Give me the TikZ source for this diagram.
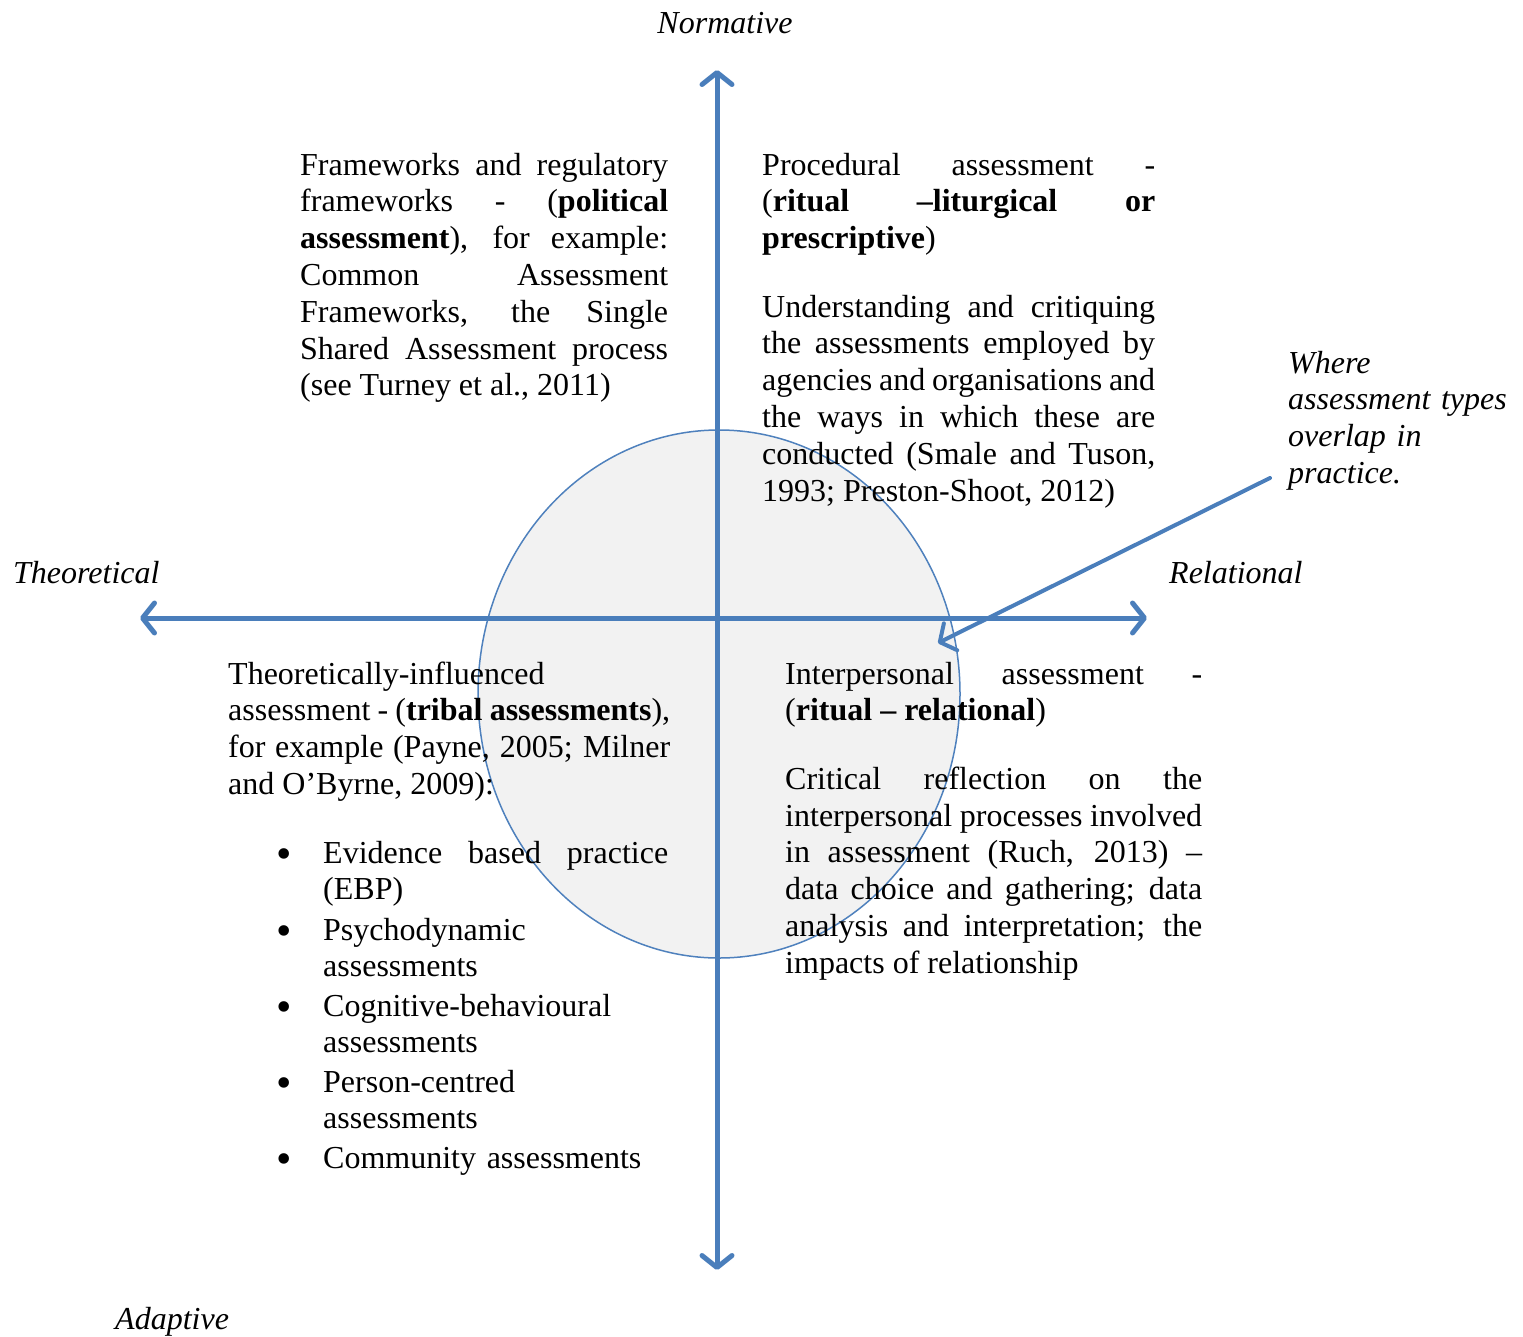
\documentclass[tikz,border=0pt]{standalone}
\usepackage{fontspec}
\setmainfont{Liberation Serif}
\usetikzlibrary{arrows.meta,shapes.geometric}
\definecolor{axisblue}{RGB}{74,126,187}
\definecolor{ringblue}{RGB}{79,129,189}
\definecolor{ringfill}{RGB}{242,242,242}
\newcommand{\loosejust}{\tolerance=10000\relax\hbadness=10000\relax\hyphenpenalty=10000\relax}
\tikzset{
  x=1pt, y=-1pt,
  axis/.style={draw=axisblue, line width=5pt, line cap=round,
    arrows={Straight Barb[length=12pt,width=30pt,line width=5pt,line cap=round,line join=round]-Straight Barb[length=12pt,width=30pt,line width=5pt,line cap=round,line join=round]}},
  pointer/.style={draw=axisblue, line width=4pt, line cap=round,
    -{Straight Barb[length=12pt,width=30pt,line width=4pt,line cap=round,line join=round]}},
  ring/.style={draw=ringblue, line width=1.5pt, fill=ringfill},
  body/.style={inner sep=0pt, anchor=base west, align=justify,
    font=\fontsize{32}{36.8}\selectfont\loosejust},
  plain/.style={inner sep=0pt, anchor=base west, align=left,
    font=\fontsize{32}{36.8}\selectfont},
  dot/.style={inner sep=0pt, anchor=base, yshift=-5pt, font=\fontsize{44}{36.8}\selectfont},
  pole/.style={inner sep=0pt, font=\fontsize{32}{36.8}\selectfont\itshape, align=left},
}
\begin{document}
\begin{tikzpicture}
\useasboundingbox (0,0) rectangle (1523,1336);

% overlap circle
\node[ring, ellipse, minimum width=482pt, minimum height=528pt, inner sep=0pt] (ring) at (719,694) {};

% axes
\coordinate (N) at (717,70);
\coordinate (S) at (717,1270);
\coordinate (W) at (140,618);
\coordinate (E) at (1147,618);
\draw[axis] (S) -- (N);
\draw[axis] (W) -- (E);

% pointer
\coordinate (p1) at (1270,478);
\coordinate (p2) at (938,643);
\draw[pointer] (p1) -- (p2);

% pole labels
\node[pole, anchor=base] (norm) at (725,33) {Normative};
\node[pole, anchor=base west] (theo) at (13,583) {Theoretical};
\node[pole, anchor=base west] (rel) at (1169,583) {Relational};
\node[pole, anchor=base west] (adap) at (115,1329) {Adaptive};
\node[pole, anchor=base west, text width=230pt] (where) at (1288,373) {Where\\assessment types\\overlap in\\practice.};

% top left
\node[body, text width=368pt] (tl) at (300,175) {Frameworks and regulatory\linebreak
frameworks - (\textbf{political}\linebreak
\textbf{assessment}), for example:\linebreak
Common Assessment\linebreak
Frameworks, the Single\linebreak
Shared Assessment process\linebreak
(see Turney et al., 2011)};

% top right
\node[body, text width=393pt] (tr) at (762,175) {Procedural assessment -\linebreak
(\textbf{ritual –liturgical or}\linebreak
\textbf{prescriptive})\\[31.6pt]
Understanding and critiquing\linebreak
the assessments employed by\linebreak
agencies and organisations and\linebreak
the ways in which these are\linebreak
conducted (Smale and Tuson,\linebreak
1993; Preston-Shoot, 2012)};

% bottom left
\node[body, text width=442pt] (bl) at (228,684) {Theoretically-influenced\newline
assessment - (\textbf{tribal assessments}),\linebreak
for example (Payne, 2005; Milner\linebreak
and O’Byrne, 2009):};

\node[dot] (d1) at (284,863) {•};
\node[body, text width=345pt] (b1) at (323,863) {Evidence based practice\linebreak (EBP)};
\node[dot] (d2) at (284,940) {•};
\node[plain, text width=345pt] (b2) at (323,940) {Psychodynamic\\assessments};
\node[dot] (d3) at (284,1016) {•};
\node[plain, text width=345pt] (b3) at (323,1016) {Cognitive-behavioural\\assessments};
\node[dot] (d4) at (284,1092) {•};
\node[plain, text width=345pt] (b4) at (323,1092) {Person-centred\\assessments};
\node[dot] (d5) at (284,1168) {•};
\node[plain, text width=345pt] (b5) at (323,1168) {Community assessments};

% bottom right
\node[body, text width=417pt] (br) at (785,684) {Interpersonal assessment -\linebreak
(\textbf{ritual – relational})\\[31.6pt]
Critical reflection on the\linebreak
interpersonal processes involved\linebreak
in assessment (Ruch, 2013) –\linebreak
data choice and gathering; data\linebreak
analysis and interpretation; the\linebreak
impacts of relationship};
\end{tikzpicture}
\end{document}
